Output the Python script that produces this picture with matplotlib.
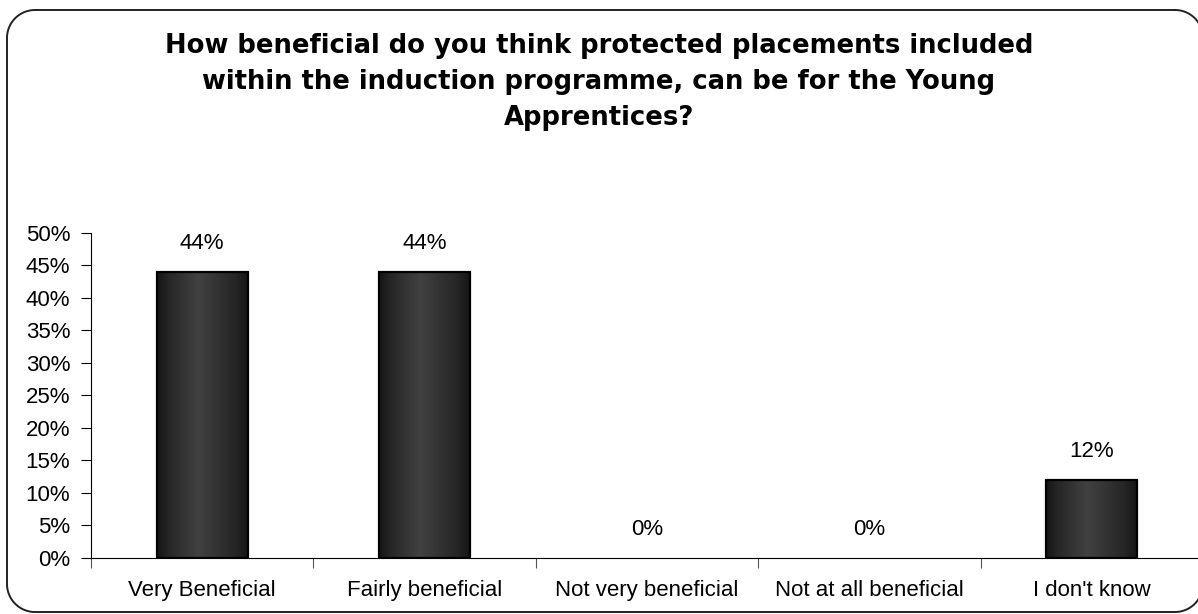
import numpy as np
import matplotlib
matplotlib.use("Agg")
import matplotlib.pyplot as plt
from matplotlib.colors import LinearSegmentedColormap
from matplotlib.lines import Line2D

# Survey responses
categories = ["Very Beneficial", "Fairly beneficial", "Not very beneficial",
              "Not at all beneficial", "I don't know"]
shares = [0.44, 0.44, 0.0, 0.0, 0.12]
value_labels = ["44%", "44%", "0%", "0%", "12%"]
y_ticks = [0.00, 0.05, 0.10, 0.15, 0.20, 0.25, 0.30, 0.35, 0.40, 0.45, 0.50]
y_tick_labels = ["0%", "5%", "10%", "15%", "20%", "25%", "30%", "35%",
                 "40%", "45%", "50%"]
title = ("How beneficial do you think protected placements included\n"
         "within the induction programme, can be for the Young\n"
         "Apprentices?")

W, H, DPI = 1198, 614, 100
fig = plt.figure(figsize=(W / DPI, H / DPI), dpi=DPI)
fig.patch.set_facecolor("white")


def rounded_frame(x0, y0, x1, y1, r, n=30):
    """Outline of a rounded rectangle in pixel units (y measured downward)."""
    pts = []
    corners = [(x1 - r, y0 + r, -90, 0), (x1 - r, y1 - r, 0, 90),
               (x0 + r, y1 - r, 90, 180), (x0 + r, y0 + r, 180, 270)]
    for cx, cy, a0, a1 in corners:
        t = np.radians(np.linspace(a0, a1, n))
        pts.append(np.column_stack([cx + r * np.cos(t), cy + r * np.sin(t)]))
    pts = np.vstack(pts + [pts[0][:1]])
    return pts[:, 0] / W, 1 - pts[:, 1] / H


fx, fy = rounded_frame(7, 10, 1203, 612, 28)
fig.add_artist(Line2D(fx, fy, transform=fig.transFigure, color="#222222",
                      linewidth=1.4, solid_joinstyle="round"))

fig.text(0.5, 0.866, title, ha="center", va="center",
         fontsize=18.6, fontweight="bold", family="DejaVu Sans",
         linespacing=1.5)

left, right = 91 / W, 1203 / W
bottom, top = (H - 558) / H, (H - 232.7) / H
ax = fig.add_axes([left, bottom, right - left, top - bottom])

x = np.arange(len(categories))
bar_w = 0.41
bars = ax.bar(x, shares, width=bar_w, color="none", edgecolor="black",
              linewidth=[1.6 if v > 0 else 0 for v in shares], zorder=3)

# Cylinder-like horizontal shading inside each bar
shade = LinearSegmentedColormap.from_list(
    "shade", [(0.0, "#141414"), (0.12, "#262626"), (0.45, "#414141"),
              (0.85, "#262626"), (1.0, "#141414")])
grad = np.linspace(0, 1, 256).reshape(1, -1)
for rect, v in zip(bars, shares):
    if v <= 0:
        continue
    x0 = rect.get_x()
    im = ax.imshow(grad, cmap=shade, aspect="auto",
                   extent=(x0, x0 + rect.get_width(), 0, v), zorder=2,
                   interpolation="bilinear")
    im.set_clip_path(rect)

for xi, v, lab in zip(x, shares, value_labels):
    ax.annotate(lab, (xi, v), xytext=(0, 13), textcoords="offset points",
                ha="center", va="bottom", fontsize=16,
                family="Liberation Sans")

ax.set_xlim(-0.5, len(categories) - 0.5)
ax.set_ylim(0, 0.5)

ax.set_yticks(y_ticks)
ax.set_yticklabels(y_tick_labels, family="Liberation Sans", fontsize=16)
ax.tick_params(axis="y", direction="out", length=7, width=0.8, pad=8)

ax.set_xticks(x)
ax.set_xticklabels(categories, family="Liberation Sans", fontsize=16)
ax.set_xticks(np.arange(-0.5, len(categories)), minor=True)
ax.tick_params(axis="x", which="major", length=0, pad=16)
ax.tick_params(axis="x", which="minor", direction="out", length=7,
               width=0.8, color="#555555")

for side in ("top", "right"):
    ax.spines[side].set_visible(False)
for side in ("left", "bottom"):
    ax.spines[side].set_linewidth(0.8)
    ax.spines[side].set_color("black")
ax.patch.set_alpha(0)

fig.savefig("out.png", dpi=DPI)
